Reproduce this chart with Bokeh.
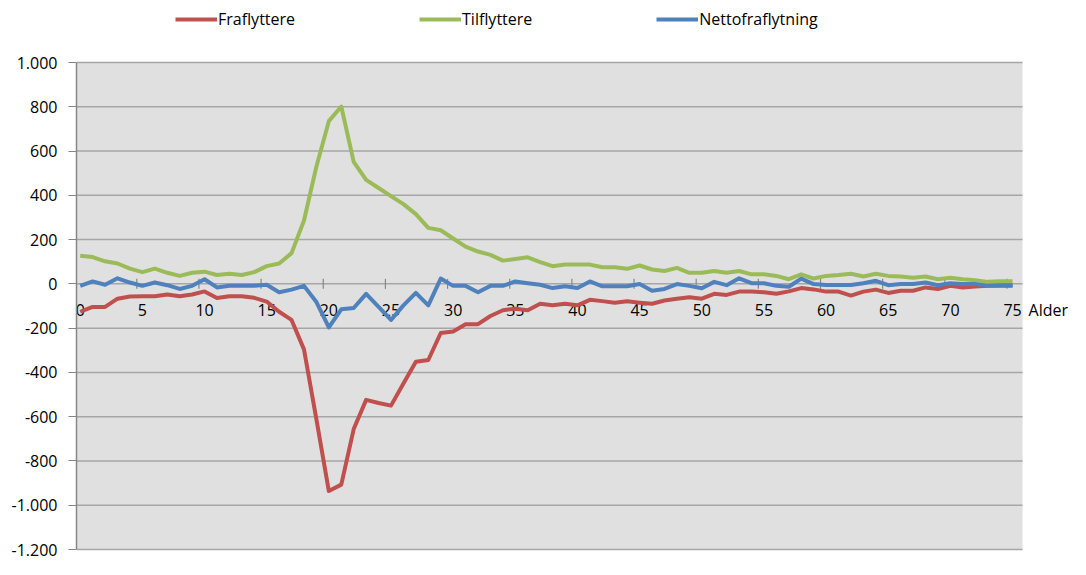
import math
from bokeh.plotting import figure
from bokeh.models import Range1d, FixedTicker, Legend, LegendItem, BoxAnnotation
from bokeh.core.properties import value
from bokeh.embed import file_html
from bokeh.resources import INLINE

# ---- data ----
ages = list(range(76))

fraflyttere = [-126, -104, -104, -67, -57, -56, -56, -48, -56, -48,
               -34, -64, -56, -56, -63, -80, -126, -163, -296, -612,
               -936, -907, -656, -524, -538, -550, -450, -352, -344, -222,
               -215, -182, -182, -145, -119, -112, -119, -90, -97, -90,
               -97, -72, -78, -85, -79, -85, -90, -75, -67, -60,
               -67, -45, -50, -35, -35, -38, -45, -34, -19, -25,
               -35, -35, -53, -35, -26, -41, -31, -31, -16, -23,
               -9, -16, -12, -9, -9, -9]

tilflyttere = [127, 121, 102, 92, 69, 53, 69, 50, 36, 50,
               55, 40, 46, 40, 53, 80, 92, 139, 286, 530,
               735, 801, 551, 470, 433, 396, 360, 315, 253, 242,
               205, 168, 146, 131, 105, 112, 120, 98, 80, 87,
               87, 87, 75, 75, 68, 83, 65, 58, 72, 50,
               50, 58, 50, 58, 43, 43, 36, 21, 43, 24,
               36, 40, 46, 33, 46, 36, 33, 28, 33, 21,
               28, 21, 16, 9, 12, 12]

nettofraflytning = [-9, 11, -4, 25, 6, -9, 6, -6, -23, -9,
                    21, -16, -9, -9, -9, -4, -38, -26, -9, -82,
                    -197, -115, -109, -45, -104, -163, -97, -41, -97, 24,
                    -9, -9, -38, -9, -9, 11, 3, -4, -19, -11,
                    -19, 11, -11, -11, -11, -1, -31, -23, -1, -9,
                    -20, 9, -6, 25, 3, 3, -9, -13, 24, -1,
                    -5, -5, -5, 3, 14, -6, -1, -1, 6, -6,
                    3, -1, -1, -9, -6, -6]

series_names = ["Fraflyttere", "Tilflyttere", "Nettofraflytning"]
y_ticks = [-1200, -1000, -800, -600, -400, -200, 0, 200, 400, 600, 800, 1000]
y_tick_labels = ["-1.200", "-1.000", "-800", "-600", "-400", "-200", "0",
                 "200", "400", "600", "800", "1.000"]
x_ticks = [0, 5, 10, 15, 20, 25, 30, 35, 40, 45, 50, 55, 60, 65, 70, 75]
x_tick_labels = [str(t) for t in x_ticks]
x_title = "Alder"

# ---- layout / styling ----
FONT = "Open Sans"
RED = "#C0504D"
GREEN = "#9BBB59"
BLUE = "#4F81BD"
AXIS_GRAY = "#868686"
GRID_GRAY = "#a6a6a6"
PLOT_BG = "#e0e0e0"

W, H = 1070, 559
BORDER_L = 76
AREA_RIGHT_PX = 1022       # right edge of the grey plot area (figure px)
TOP_SPACE = 62             # white band above the plot area (legend)
BOTTOM_SPACE = 10          # white band below the plot area
x_lo, x_hi = -0.3, 75.8    # category extent of the grey plot area
y_lo, y_hi = y_ticks[0], y_ticks[-1]

frame_w = W - BORDER_L
area_w = AREA_RIGHT_PX - BORDER_L
x_end = x_lo + (x_hi - x_lo) * frame_w / area_w
area_h = H - TOP_SPACE - BOTTOM_SPACE
y_top = y_hi + (y_hi - y_lo) * TOP_SPACE / area_h
y_bot = y_lo - (y_hi - y_lo) * BOTTOM_SPACE / area_h

p = figure(width=W, height=H, output_backend="svg", toolbar_location=None,
           x_range=Range1d(x_lo, x_end), y_range=Range1d(y_bot, y_top),
           x_axis_location=None,
           min_border_left=BORDER_L, min_border_right=0,
           min_border_top=0, min_border_bottom=0)

p.background_fill_color = "white"
p.border_fill_color = "white"
p.outline_line_color = None
p.xgrid.visible = False
p.ygrid.visible = False

# grey plot area
p.add_layout(BoxAnnotation(left=x_lo, right=x_hi, bottom=y_lo, top=y_hi,
                           fill_color=PLOT_BG, fill_alpha=1,
                           line_color=None, level="image"))

# horizontal gridlines across the plot area
p.segment(x0=[x_lo] * len(y_ticks), x1=[x_hi] * len(y_ticks), y0=y_ticks, y1=y_ticks,
          line_color=GRID_GRAY, line_width=1.5)

ax = p.yaxis[0]
ax.ticker = FixedTicker(ticks=y_ticks)
ax.bounds = (y_lo, y_hi)
ax.major_label_overrides = {t: l for t, l in zip(y_ticks, y_tick_labels)}
ax.axis_line_color = AXIS_GRAY
ax.axis_line_width = 1.5
ax.major_tick_line_color = AXIS_GRAY
ax.major_tick_in = 0
ax.major_tick_out = 8
ax.minor_tick_line_color = None
ax.major_label_standoff = 11
ax.major_label_text_font = FONT
ax.major_label_text_font_size = "16px"
ax.major_label_text_color = "black"

# category tick marks on the zero line (between categories)
p.scatter(x=[t - 0.45 for t in x_ticks], y=[0] * len(x_ticks), marker="dash",
          size=10, angle=math.pi / 2, line_color=AXIS_GRAY, line_width=1.2)

# x tick labels just under the zero line
p.text(x=x_ticks, y=[0] * len(x_ticks), text=x_tick_labels,
       text_align="center", text_baseline="middle", y_offset=26,
       text_font=value(FONT), text_font_size="16px", text_color="black")

# axis title, right of the last category label
p.text(x=[x_ticks[-1]], y=[0], text=[x_title], text_align="left",
       text_baseline="middle", x_offset=16, y_offset=26,
       text_font=value(FONT), text_font_size="16px", text_color="black")

r_red = p.line(ages, fraflyttere, line_color=RED, line_width=4, line_join="round")
r_green = p.line(ages, tilflyttere, line_color=GREEN, line_width=4, line_join="round")
r_blue = p.line(ages, nettofraflytning, line_color=BLUE, line_width=4, line_join="round")

legend = Legend(items=[LegendItem(label=series_names[0], renderers=[r_red]),
                       LegendItem(label=series_names[1], renderers=[r_green]),
                       LegendItem(label=series_names[2], renderers=[r_blue])],
                orientation="horizontal", location=(99, H - 30),
                glyph_width=42, glyph_height=20, label_height=20,
                label_standoff=1, spacing=124, padding=0, margin=0,
                border_line_color=None, background_fill_alpha=0,
                label_text_font=FONT, label_text_font_size="16px",
                label_text_color="black")
p.add_layout(legend, "center")

open("out.html", "w").write(file_html(p, INLINE))
